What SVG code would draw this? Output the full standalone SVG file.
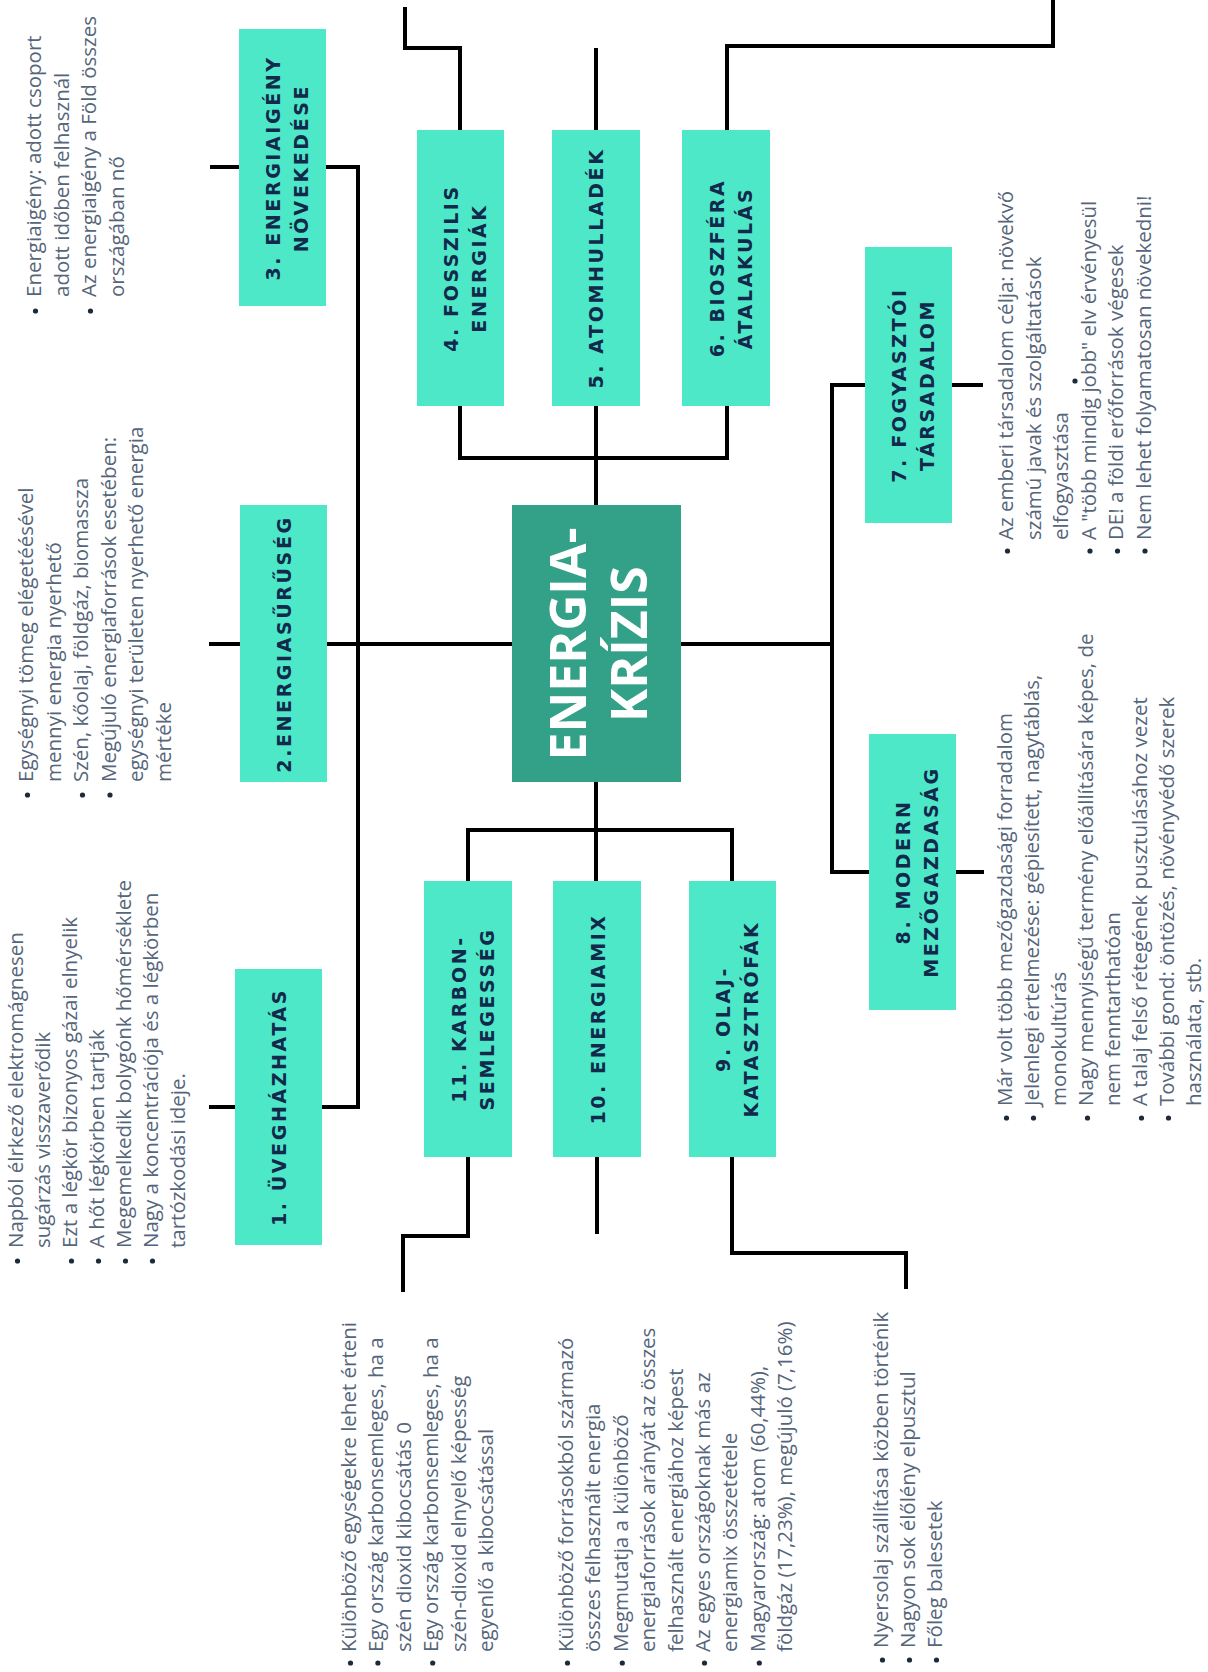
<svg xmlns="http://www.w3.org/2000/svg" width="1208" height="1672" viewBox="0 0 1208 1672">
<style>
.bg{fill:#ffffff}
.node{fill:#4de8c8}
.core{fill:#33a088}
.lbl{font-family:"DejaVu Sans",sans-serif;font-weight:bold;font-size:19px;letter-spacing:2.6px;fill:#13294b;text-anchor:middle}
.corelbl{font-family:"Open Sans",sans-serif;font-weight:700;font-size:50px;fill:#ffffff;text-anchor:middle}
.t{font-family:"Open Sans",sans-serif;font-size:20.5px;fill:#55657a}
.conn path,.conn line{fill:none;stroke:#000000;stroke-width:4;stroke-linejoin:miter;stroke-linecap:square}
.bul circle{fill:#1e2a38}
</style>
<rect class="bg" x="0" y="0" width="1208" height="1672"/>

<g id="connectors" class="conn">
  <line x1="212" y1="167" x2="239" y2="167"/>
  <path d="M326,167 H358 V1107 H322"/>
  <line x1="211" y1="1107" x2="235" y2="1107"/>
  <line x1="211" y1="644" x2="240" y2="644"/>
  <line x1="327" y1="644" x2="512" y2="644"/>
  <line x1="681" y1="644" x2="832" y2="644"/>
  <path d="M865,385 H832 V872 H869"/>
  <line x1="952" y1="385" x2="981" y2="385"/>
  <line x1="956" y1="872" x2="982" y2="872"/>
  <line x1="596" y1="505" x2="596" y2="406"/>
  <path d="M460,406 V458 H727 V406"/>
  <path d="M460,130 V48 H405 V9"/>
  <line x1="596" y1="130" x2="596" y2="50"/>
  <path d="M727,130 V46 H1053 V0"/>
  <line x1="596" y1="782" x2="596" y2="881"/>
  <path d="M468,881 V830 H732 V881"/>
  <path d="M468,1157 V1236 H403 V1290"/>
  <line x1="597" y1="1157" x2="597" y2="1232"/>
  <path d="M732,1157 V1253 H906 V1287"/>
</g>

<g id="n3">
  <rect class="node" x="239" y="29" width="87" height="277"/>
  <text class="lbl" transform="translate(280,168) rotate(-90)"><tspan x="0" y="0">3. ENERGIAIGÉNY</tspan><tspan x="0" y="28">NÖVEKEDÉSE</tspan></text>
</g>
<g id="n4">
  <rect class="node" x="417" y="130" width="87" height="276"/>
  <text class="lbl" transform="translate(458,268) rotate(-90)"><tspan x="0" y="0">4. FOSSZILIS</tspan><tspan x="0" y="28">ENERGIÁK</tspan></text>
</g>
<g id="n5">
  <rect class="node" x="552" y="130" width="88" height="276"/>
  <text class="lbl" transform="translate(603,268) rotate(-90)"><tspan x="0" y="0">5. ATOMHULLADÉK</tspan></text>
</g>
<g id="n6">
  <rect class="node" x="682" y="130" width="88" height="276"/>
  <text class="lbl" transform="translate(724,268) rotate(-90)"><tspan x="0" y="0">6. BIOSZFÉRA</tspan><tspan x="0" y="28">ÁTALAKULÁS</tspan></text>
</g>
<g id="n7">
  <rect class="node" x="865" y="247" width="87" height="276"/>
  <text class="lbl" transform="translate(906,385) rotate(-90)"><tspan x="0" y="0">7. FOGYASZTÓI</tspan><tspan x="0" y="28">TÁRSADALOM</tspan></text>
</g>
<g id="n2">
  <rect class="node" x="240" y="505" width="87" height="277"/>
  <text class="lbl" transform="translate(291,644) rotate(-90)"><tspan x="0" y="0">2.ENERGIASŰRŰSÉG</tspan></text>
</g>
<g id="center">
  <rect class="core" x="512" y="505" width="169" height="277"/>
  <text class="corelbl" transform="translate(586,644) rotate(-90)"><tspan x="0" y="0">ENERGIA-</tspan><tspan x="0" y="61">KRÍZIS</tspan></text>
</g>
<g id="n8">
  <rect class="node" x="869" y="734" width="87" height="276"/>
  <text class="lbl" transform="translate(910,872) rotate(-90)"><tspan x="0" y="0">8. MODERN</tspan><tspan x="0" y="28">MEZŐGAZDASÁG</tspan></text>
</g>
<g id="n1">
  <rect class="node" x="235" y="969" width="87" height="276"/>
  <text class="lbl" transform="translate(286,1107) rotate(-90)"><tspan x="0" y="0">1. ÜVEGHÁZHATÁS</tspan></text>
</g>
<g id="n11">
  <rect class="node" x="424" y="881" width="88" height="276"/>
  <text class="lbl" transform="translate(466,1019) rotate(-90)"><tspan x="0" y="0">11. KARBON-</tspan><tspan x="0" y="28">SEMLEGESSÉG</tspan></text>
</g>
<g id="n10">
  <rect class="node" x="553" y="881" width="88" height="276"/>
  <text class="lbl" transform="translate(605,1019) rotate(-90)"><tspan x="0" y="0">10. ENERGIAMIX</tspan></text>
</g>
<g id="n9">
  <rect class="node" x="689" y="881" width="87" height="276"/>
  <text class="lbl" transform="translate(730,1019) rotate(-90)"><tspan x="0" y="0">9. OLAJ-</tspan><tspan x="0" y="28">KATASZTRÓFÁK</tspan></text>
</g>

<g id="note3">
  <text class="t" transform="translate(41,297) rotate(-90)"><tspan x="0" y="0">Energiaigény: adott csoport</tspan><tspan x="0" dy="27.5">adott időben felhasznál</tspan><tspan x="0" dy="27.5">Az energiaigény a Föld összes</tspan><tspan x="0" dy="27.5">országában nő</tspan></text>
  <g class="bul"><circle cx="35.5" cy="311" r="2.6"/><circle cx="90.5" cy="311" r="2.6"/></g>
</g>
<g id="note2">
  <text class="t" transform="translate(33,782) rotate(-90)"><tspan x="0" y="0">Egységnyi tömeg elégetéésével</tspan><tspan x="0" dy="27.5">mennyi energia nyerhető</tspan><tspan x="0" dy="27.5">Szén, kőolaj, földgáz, biomassza</tspan><tspan x="0" dy="27.5">Megújuló energiaforrások esetében:</tspan><tspan x="0" dy="27.5">egységnyi területen nyerhető energia</tspan><tspan x="0" dy="27.5">mértéke</tspan></text>
  <g class="bul"><circle cx="27.5" cy="795" r="2.6"/><circle cx="82.5" cy="795" r="2.6"/><circle cx="110" cy="795" r="2.6"/></g>
</g>
<g id="note1">
  <text class="t" transform="translate(23,1248) rotate(-90)"><tspan x="0" y="0">Napból élrkező elektromágnesen</tspan><tspan x="0" dy="27">sugárzás visszaverődik</tspan><tspan x="0" dy="27">Ezt a légkör bizonyos gázai elnyelik</tspan><tspan x="0" dy="27">A hőt légkörben tartják</tspan><tspan x="0" dy="27">Megemelkedik bolygónk hőmérséklete</tspan><tspan x="0" dy="27">Nagy a koncentrációja és a légkörben</tspan><tspan x="0" dy="27">tartózkodási ideje.</tspan></text>
  <g class="bul"><circle cx="17.5" cy="1261" r="2.6"/><circle cx="71.5" cy="1261" r="2.6"/><circle cx="98.5" cy="1261" r="2.6"/><circle cx="125.5" cy="1261" r="2.6"/><circle cx="152.5" cy="1261" r="2.6"/></g>
</g>
<g id="note11">
  <text class="t" transform="translate(356,1652) rotate(-90)"><tspan x="0" y="0">Különböző egységekre lehet érteni</tspan><tspan x="0" dy="27.4">Egy ország karbonsemleges, ha a</tspan><tspan x="0" dy="27.4">szén dioxid kibocsátás 0</tspan><tspan x="0" dy="27.4">Egy ország karbonsemleges, ha a</tspan><tspan x="0" dy="27.4">szén-dioxid elnyelő képesség</tspan><tspan x="0" dy="27.4">egyenlő a kibocsátással</tspan></text>
  <g class="bul"><circle cx="350.5" cy="1663" r="2.6"/><circle cx="377.9" cy="1663" r="2.6"/><circle cx="432.7" cy="1663" r="2.6"/></g>
</g>
<g id="note10">
  <text class="t" transform="translate(573,1652) rotate(-90)"><tspan x="0" y="0">Különböző forrásokból származó</tspan><tspan x="0" dy="27.4">összes felhasznált energia</tspan><tspan x="0" dy="27.4">Megmutatja a különböző</tspan><tspan x="0" dy="27.4">energiaforrások arányát az összes</tspan><tspan x="0" dy="27.4">felhasznált energiához képest</tspan><tspan x="0" dy="27.4">Az egyes országoknak más az</tspan><tspan x="0" dy="27.4">energiamix összetétele</tspan><tspan x="0" dy="27.4">Magyarország: atom (60,44%),</tspan><tspan x="0" dy="27.4">földgáz (17,23%), megújuló (7,16%)</tspan></text>
  <g class="bul"><circle cx="567.5" cy="1663" r="2.6"/><circle cx="622.3" cy="1663" r="2.6"/><circle cx="704.5" cy="1663" r="2.6"/><circle cx="759.3" cy="1663" r="2.6"/></g>
</g>
<g id="note9">
  <text class="t" transform="translate(888,1648) rotate(-90)"><tspan x="0" y="0">Nyersolaj szállítása közben történik</tspan><tspan x="0" dy="27">Nagyon sok élőlény elpusztul</tspan><tspan x="0" dy="27">Főleg balesetek</tspan></text>
  <g class="bul"><circle cx="882.5" cy="1660" r="2.6"/><circle cx="909.5" cy="1660" r="2.6"/><circle cx="936.5" cy="1660" r="2.6"/></g>
</g>
<g id="note7">
  <text class="t" transform="translate(1013,540) rotate(-90)"><tspan x="0" y="0">Az emberi társadalom célja: növekvő</tspan><tspan x="0" dy="27.5">számú javak és szolgáltatások</tspan><tspan x="0" dy="27.5">elfogyasztása</tspan><tspan x="0" dy="27.5">A "több mindig jobb" elv érvényesül</tspan><tspan x="0" dy="27.5">DE! a földi erőforrások végesek</tspan><tspan x="0" dy="27.5">Nem lehet folyamatosan növekedni!</tspan></text>
  <g class="bul"><circle cx="1007.5" cy="551" r="2.6"/><circle cx="1090" cy="551" r="2.6"/><circle cx="1117.5" cy="551" r="2.6"/><circle cx="1145" cy="551" r="2.6"/><circle cx="1075" cy="381" r="2.6"/></g>
</g>
<g id="note8">
  <text class="t" transform="translate(1012,1106) rotate(-90)"><tspan x="0" y="0">Már volt több mezőgazdasági forradalom</tspan><tspan x="0" dy="27">Jelenlegi értelmezése: gépiesített, nagytáblás,</tspan><tspan x="0" dy="27">monokultúrás</tspan><tspan x="0" dy="27">Nagy mennyiségű termény előállítására képes, de</tspan><tspan x="0" dy="27">nem fenntarthatóan</tspan><tspan x="0" dy="27">A talaj felső rétegének pusztulásához vezet</tspan><tspan x="0" dy="27">További gond: öntözés, növényvédő szerek</tspan><tspan x="0" dy="27">használata, stb.</tspan></text>
  <g class="bul"><circle cx="1006.5" cy="1118" r="2.6"/><circle cx="1033.5" cy="1118" r="2.6"/><circle cx="1087.5" cy="1118" r="2.6"/><circle cx="1141.5" cy="1118" r="2.6"/><circle cx="1168.5" cy="1118" r="2.6"/></g>
</g>
</svg>
